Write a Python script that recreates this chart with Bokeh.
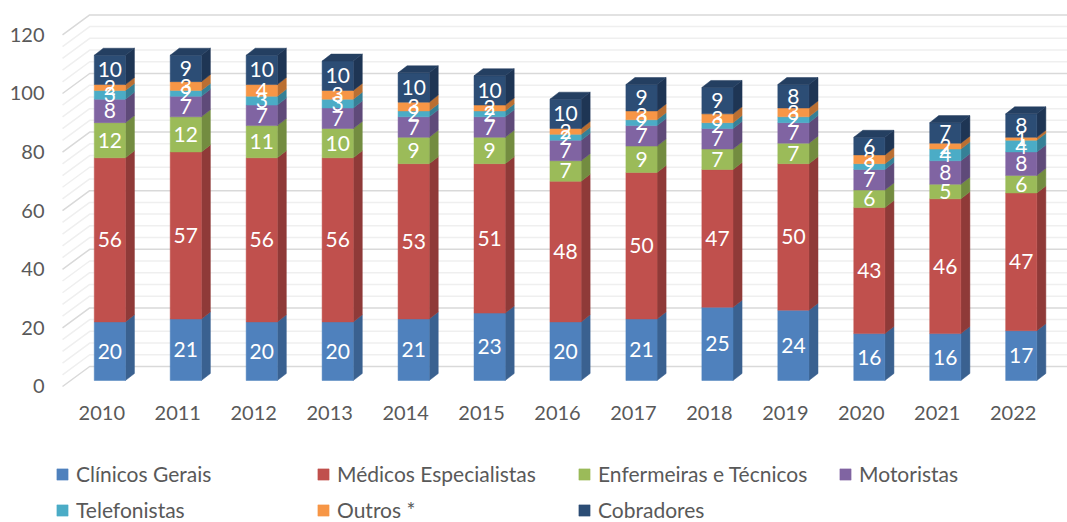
from bokeh.plotting import figure
from bokeh.models import Range1d, FixedTicker, Legend, LegendItem, ColumnDataSource
from bokeh.core.properties import value
from bokeh.embed import file_html
from bokeh.resources import INLINE

# ---------------- data ----------------
years = ["2010", "2011", "2012", "2013", "2014", "2015", "2016",
         "2017", "2018", "2019", "2020", "2021", "2022"]
series_names = ["Clínicos Gerais", "Médicos Especialistas", "Enfermeiras e Técnicos",
                "Motoristas", "Telefonistas", "Outros *", "Cobradores"]
clinicos = [20, 21, 20, 20, 21, 23, 20, 21, 25, 24, 16, 16, 17]
medicos = [56, 57, 56, 56, 53, 51, 48, 50, 47, 50, 43, 46, 47]
enfermeiras = [12, 12, 11, 10, 9, 9, 7, 9, 7, 7, 6, 5, 6]
motoristas = [8, 7, 7, 7, 7, 7, 7, 7, 7, 7, 7, 8, 8]
telefonistas = [3, 2, 3, 3, 2, 2, 2, 2, 2, 2, 2, 4, 4]
outros = [2, 3, 4, 3, 3, 2, 2, 3, 3, 3, 3, 2, 1]
cobradores = [10, 9, 10, 10, 10, 10, 10, 9, 9, 8, 6, 7, 8]
y_ticks = [0, 20, 40, 60, 80, 100, 120]

series_values = [clinicos, medicos, enfermeiras, motoristas, telefonistas, outros, cobradores]
front_colors = ["#4F81BD", "#C0504D", "#9BBB59", "#8064A2", "#4BACC6", "#F79646", "#2C4D75"]
side_colors = ["#3A6190", "#8F3A38", "#738C40", "#5F4A79", "#368096", "#BA6F32", "#1E3554"]
top_color = "#243F61"

# ---------------- 3D geometry (in data units) ----------------
W_BAR = 0.41       # front face width
BAR_SHIFT = 0.106  # bars sit deeper than the front (axis) plane
DX_BAR = 0.119     # bar depth, x
DY_BAR = 2.4       # bar depth, y
BASE = 2.05        # baseline offset of bars relative to front plane
FL, BL, BR = -0.517, -0.159, 12.715   # gridline front-left, back-left, back-right x
DY_BACK = 6.83     # back wall offset in y
XLABEL_Y = -9.2    # category labels sit under the floor

FONT = "Lato"
GREY = "#595959"

p = figure(width=1067, height=522, output_backend="svg", toolbar_location=None,
           x_range=Range1d(-0.6225, 12.715), y_range=Range1d(-46.42, 131.74),
           x_axis_location=None,
           min_border_left=54, min_border_right=0, min_border_top=0, min_border_bottom=0)
p.outline_line_color = None
p.xgrid.visible = False
p.ygrid.visible = False
p.background_fill_color = "white"
p.border_fill_color = "white"

# gridlines (minor every 4, major every 20) on side + back wall
grid_vals = list(range(0, 121, 4))
gx, gy, gc = [], [], []
for v in grid_vals:
    gx.append([FL, BL, BR])
    gy.append([v, v + DY_BACK, v + DY_BACK])
    gc.append("#D9D9D9" if v % 20 == 0 else "#EFEFEF")
p.multi_line(xs=gx, ys=gy, line_color=gc, line_width=1.5)

n = len(years)
cum = [0.0] * n
legend_items = []
label_x, label_y, label_t = [], [], []
for s, (name, vals) in enumerate(zip(series_names, series_values)):
    left = [i + BAR_SHIFT - W_BAR / 2 for i in range(n)]
    right = [i + BAR_SHIFT + W_BAR / 2 for i in range(n)]
    bottom = [BASE + cum[i] for i in range(n)]
    top = [BASE + cum[i] + vals[i] for i in range(n)]
    # side faces
    sxs = [[right[i], right[i] + DX_BAR, right[i] + DX_BAR, right[i]] for i in range(n)]
    sys_ = [[bottom[i], bottom[i] + DY_BAR, top[i] + DY_BAR, top[i]] for i in range(n)]
    p.patches(xs=sxs, ys=sys_, fill_color=side_colors[s], line_color=side_colors[s], line_width=0.5)
    r = p.quad(left=left, right=right, bottom=bottom, top=top,
               fill_color=front_colors[s], line_color=front_colors[s], line_width=0.5)
    legend_items.append(LegendItem(label=name, renderers=[r]))
    for i in range(n):
        label_x.append(i + BAR_SHIFT)
        label_y.append((bottom[i] + top[i]) / 2)
        label_t.append(str(vals[i]))
    cum = [cum[i] + vals[i] for i in range(n)]

# top faces of the stacks
txs, tys = [], []
for i in range(n):
    l = i + BAR_SHIFT - W_BAR / 2
    rr = i + BAR_SHIFT + W_BAR / 2
    t = BASE + cum[i]
    txs.append([l, rr, rr + DX_BAR, l + DX_BAR])
    tys.append([t, t, t + DY_BAR, t + DY_BAR])
p.patches(xs=txs, ys=tys, fill_color=top_color, line_color=top_color, line_width=0.5)

src = ColumnDataSource(dict(x=label_x, y=label_y, t=label_t))
p.text(x="x", y="y", text="t", source=src, text_color="white", text_font=value(FONT),
       text_font_size="21px", text_align="center", text_baseline="middle")

# category labels along the front of the floor
cat_src = ColumnDataSource(dict(x=list(range(n)), y=[XLABEL_Y] * n, t=years))
p.text(x="x", y="y", text="t", source=cat_src, text_color=GREY, text_font=value(FONT),
       text_font_size="20px", text_align="center", text_baseline="middle")

# value axis
p.yaxis.ticker = FixedTicker(ticks=y_ticks)
p.yaxis.axis_line_color = None
p.yaxis.major_tick_line_color = None
p.yaxis.minor_tick_line_color = None
p.yaxis.major_label_text_font = FONT
p.yaxis.major_label_text_font_size = "20px"
p.yaxis.major_label_text_color = GREY
p.yaxis.major_label_standoff = 4

legend = Legend(items=legend_items, ncols=4, orientation="horizontal", location=(1, 0),
                label_text_font=FONT, label_text_font_size="21px", label_text_color=GREY,
                glyph_width=14, glyph_height=14, label_standoff=7, spacing=11,
                label_width=229, label_height=22, padding=0, margin=0,
                border_line_color=None, background_fill_alpha=0)
p.add_layout(legend, "center")

open("out.html", "w").write(file_html(p, INLINE))
